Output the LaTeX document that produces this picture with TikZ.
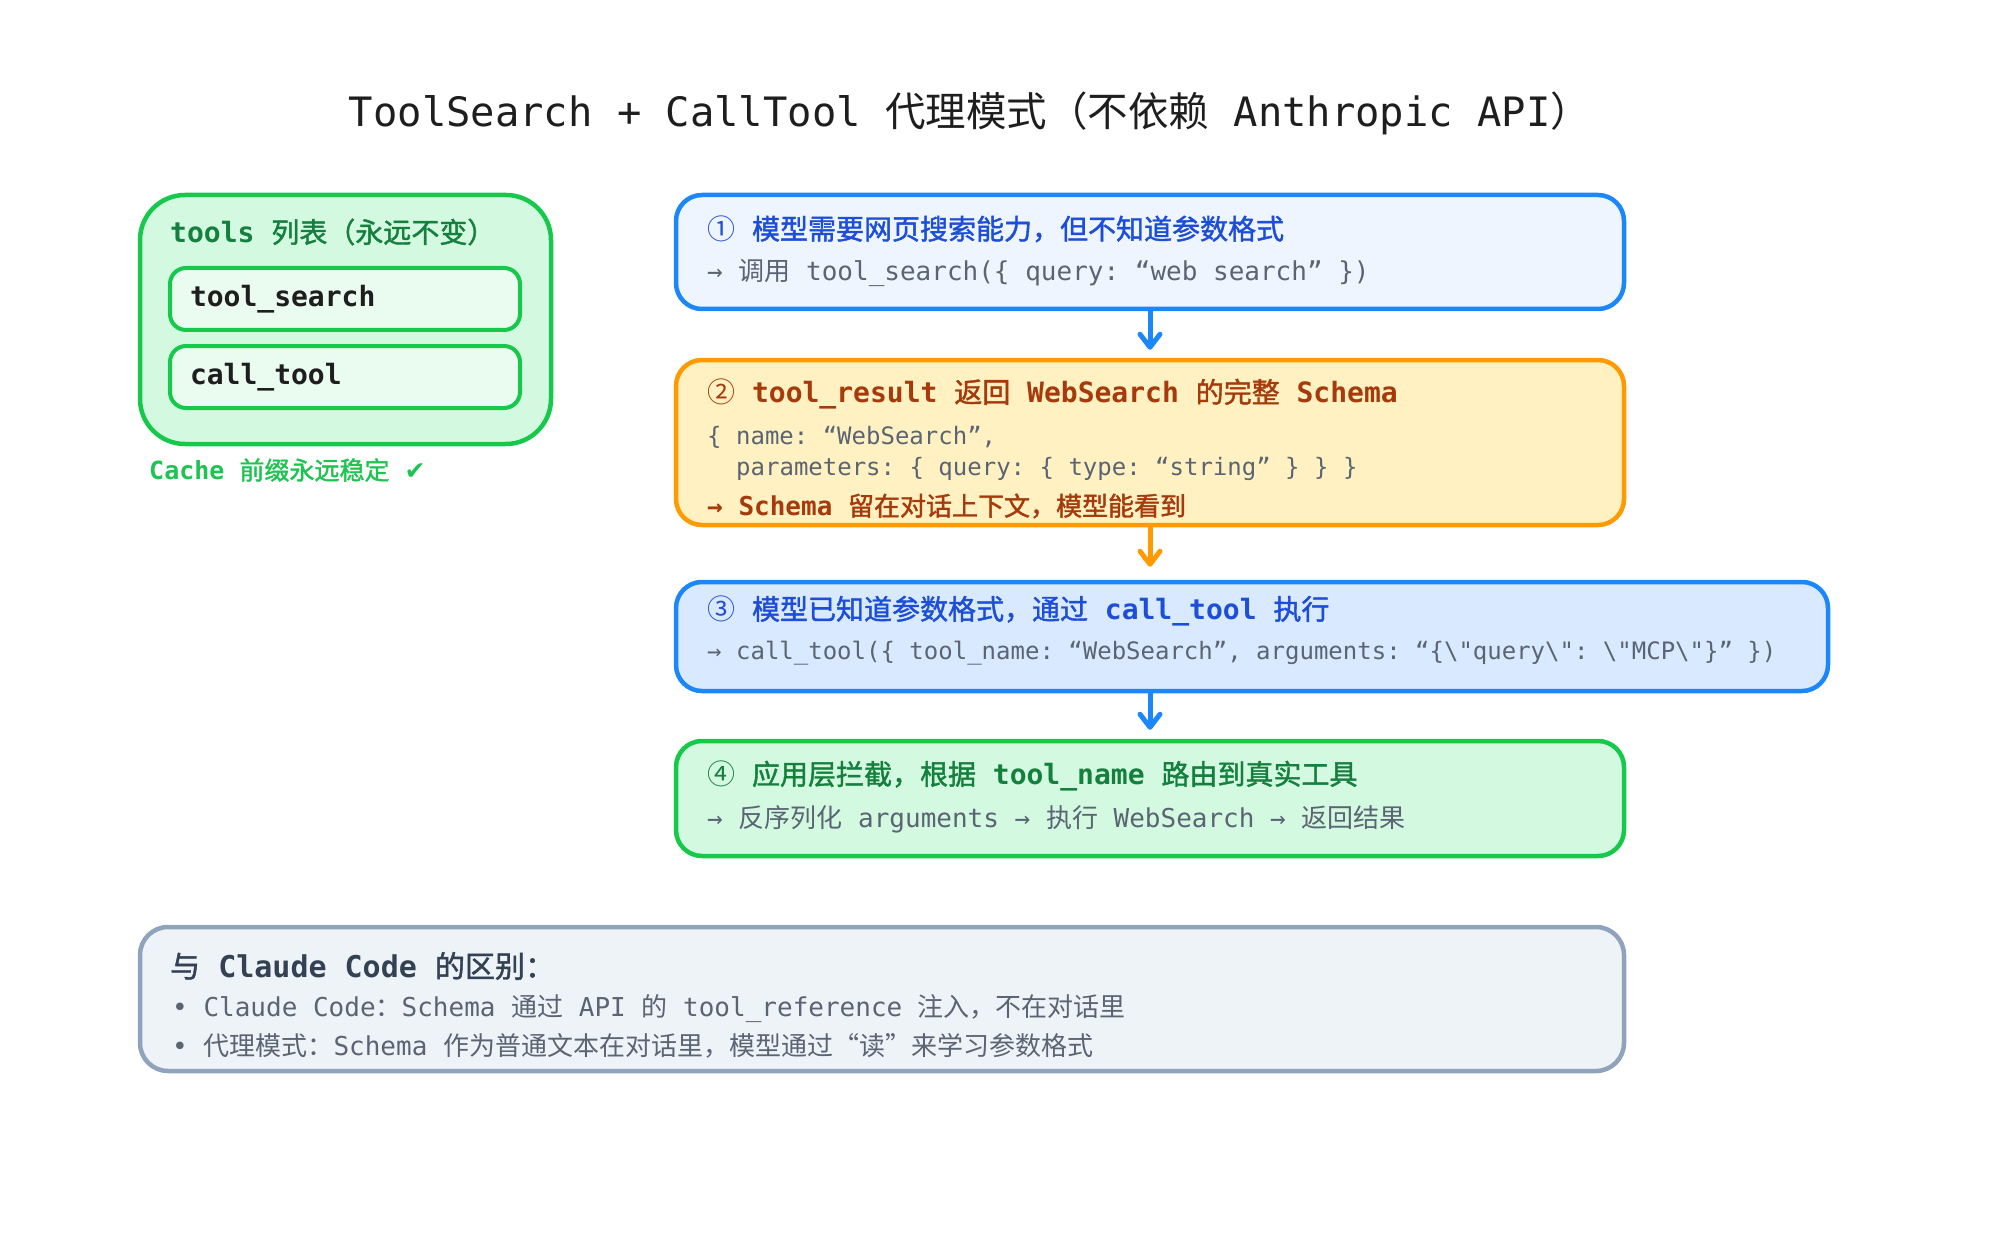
\documentclass[tikz,border=0pt]{standalone}
\usepackage{fontspec}
\setmonofont{DejaVu Sans Mono}
\newfontfamily\cjk[BoldFont={Noto Sans CJK SC}, BoldFeatures={FakeBold=1.5}]{Noto Sans CJK SC}
\newfontfamily\symfont{DejaVu Sans}
\newcommand{\zh}[1]{{\cjk #1}}
\usetikzlibrary{arrows.meta}

\definecolor{ink}{HTML}{1E1E1E}
\definecolor{blueline}{HTML}{1C87F9}
\definecolor{bluetext}{HTML}{1D4ED8}
\definecolor{bluepale}{HTML}{EEF5FF}
\definecolor{bluefill}{HTML}{D9E9FF}
\definecolor{orangeline}{HTML}{FF9A00}
\definecolor{orangefill}{HTML}{FFF1C2}
\definecolor{rust}{HTML}{A63A0A}
\definecolor{greenline}{HTML}{16C94B}
\definecolor{greenfill}{HTML}{D4F9E1}
\definecolor{greenpale}{HTML}{EAFBF0}
\definecolor{greentext}{HTML}{15803D}
\definecolor{greenlabel}{HTML}{1DC451}
\definecolor{slateline}{HTML}{8FA3BD}
\definecolor{slatefill}{HTML}{EEF3F8}
\definecolor{slatetext}{HTML}{334155}
\definecolor{codegrey}{HTML}{5B6473}

\tikzset{
  card/.style={draw, line width=4.5pt, rounded corners=26pt, inner sep=0pt},
  toolbox/.style={draw=greenline, fill=greenpale, line width=4pt, rounded corners=16pt,
    minimum height=62pt, text width=310pt, inner xsep=20pt, align=left, text=ink,
    font=\ttfamily\bfseries\fontsize{28}{32}\selectfont},
  txt/.style={anchor=west, inner sep=0pt, text=codegrey, font=\ttfamily\fontsize{26}{30}\selectfont},
  head/.style={anchor=west, inner sep=0pt, font=\ttfamily\bfseries\fontsize{28}{32}\selectfont},
}

\begin{document}
\begin{tikzpicture}[x=1pt,y=-1pt,>={Straight Barb[round,length=13pt,width=20pt]}]
  \useasboundingbox (0,0) rectangle (2000,1257);

  \node[text=ink, font=\ttfamily\fontsize{40.5}{46}\selectfont] (title) at (970,113)
    {ToolSearch + CallTool \zh{代理模式（不依赖} Anthropic API\zh{）}};

  % tools list on the left
  \node[card, draw=greenline, fill=greenfill, rounded corners=45pt, minimum width=411pt, minimum height=249pt] (tools) at (345.5,319.5) {};
  \node[head, text=greentext] (toolshead) at (170,232) {tools \zh{列表（永远不变）}};
  \node[toolbox] (search) at (345,299) {tool\_search};
  \node[toolbox] (call) at (345,377) {call\_tool};
  \node[txt, text=greenlabel, font=\ttfamily\bfseries\fontsize{25}{30}\selectfont] (cache) at (149,470) {Cache \zh{前缀永远稳定} {\symfont ✔}};

  % step 1
  \node[card, draw=blueline, fill=bluepale, minimum width=948pt, minimum height=114pt] (ask) at (1150,252) {};
  \node[head, text=bluetext] (askhead) at (707,229) {{\cjk\mdseries ①} \zh{模型需要网页搜索能力，但不知道参数格式}};
  \node[txt] (askline) at (707,273) {→ \zh{调用} tool\_search(\{ query: “web search” \})};

  % step 2
  \node[card, draw=orangeline, fill=orangefill, minimum width=948pt, minimum height=165pt] (result) at (1150,442.5) {};
  \node[head, text=rust] (resulthead) at (707,394) {{\cjk\mdseries ②} tool\_result \zh{返回} WebSearch \zh{的完整} Schema};
  \node[txt, font=\ttfamily\fontsize{24}{28}\selectfont] (resultline) at (707,437) {\{ name: “WebSearch”,};
  \node[txt, font=\ttfamily\fontsize{24}{28}\selectfont] (resultpar) at (736,469) {parameters: \{ query: \{ type: “string” \} \} \}};
  \node[txt, text=rust, font=\ttfamily\bfseries\fontsize{26}{30}\selectfont] (resultnote) at (707,506) {→ Schema \zh{留在对话上下文，模型能看到}};

  % step 3
  \node[card, draw=blueline, fill=bluefill, minimum width=1152pt, minimum height=109pt] (run) at (1252,636.5) {};
  \node[head, text=bluetext] (runhead) at (707,611) {{\cjk\mdseries ③} \zh{模型已知道参数格式，通过} call\_tool \zh{执行}};
  \node[txt, font=\ttfamily\fontsize{24}{28}\selectfont] (runline) at (707,653)
    {→ call\_tool(\{ tool\_name: “WebSearch”, arguments: “\{\textbackslash"query\textbackslash": \textbackslash"MCP\textbackslash"\}” \})};

  % step 4
  \node[card, draw=greenline, fill=greenfill, minimum width=948pt, minimum height=115pt] (act) at (1150,798.5) {};
  \node[head, text=greentext] (acthead) at (707,776) {{\cjk\mdseries ④} \zh{应用层拦截，根据} tool\_name \zh{路由到真实工具}};
  \node[txt] (actline) at (707,819) {→ \zh{反序列化} arguments → \zh{执行} WebSearch → \zh{返回结果}};

  \draw[->, blueline, line width=5pt, shorten >=8pt] (ask.south) -- (result.north);
  \draw[->, orangeline, line width=5pt, shorten >=13pt] (result.south) -- (result.south |- run.north);
  \draw[->, blueline, line width=5pt, shorten >=9pt] (act.north |- run.south) -- (act.north);

  % difference note
  \node[card, draw=slateline, fill=slatefill, rounded corners=28pt, minimum width=1484pt, minimum height=144pt] (diff) at (882,999) {};
  \node[head, text=slatetext, font=\ttfamily\bfseries\fontsize{30}{34}\selectfont] (diffhead) at (170,966) {\zh{与} Claude Code \zh{的区别：}};
  \node[txt, font=\ttfamily\fontsize{26}{30}\selectfont] (diffone) at (172,1009) {• Claude Code\zh{：}Schema \zh{通过} API \zh{的} tool\_reference \zh{注入，不在对话里}};
  \node[txt, font=\ttfamily\fontsize{26}{30}\selectfont] (difftwo) at (172,1046) {• \zh{代理模式：}Schema \zh{作为普通文本在对话里，模型通过“读”来学习参数格式}};
\end{tikzpicture}
\end{document}
